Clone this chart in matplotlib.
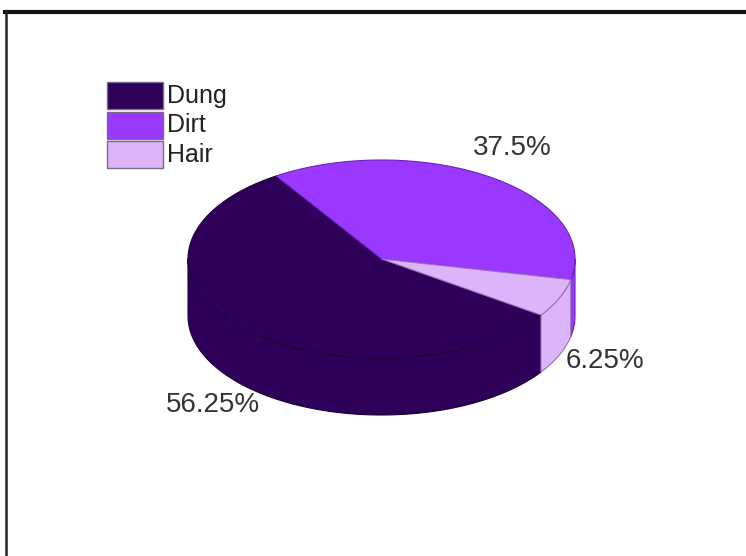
import numpy as np
import matplotlib
matplotlib.use('Agg')
import matplotlib.pyplot as plt
from matplotlib.patches import Polygon, Rectangle
from matplotlib.lines import Line2D

categories = ['Dung', 'Dirt', 'Hair']
values = [56.25, 37.5, 6.25]
colors = ['#2e0059', '#9a38ff', '#dcb4fa']
edge_colors = ['#1a0033', '#6e1fc0', '#9a70c0']
pct_labels = ['56.25%', '37.5%', '6.25%']

plt.rcParams['font.family'] = ['Liberation Sans', 'DejaVu Sans']

W, H = 746, 556
fig = plt.figure(figsize=(W / 100, H / 100), dpi=100)
ax = fig.add_axes([0, 0, 1, 1])
ax.set_xlim(0, W)
ax.set_ylim(H, 0)
ax.axis('off')

# pie geometry (pixel space)
cx, cy = 381.5, 259
a, b = 193.5, 99
depth = 57
start = 325.5   # clockwise from here


def ell(t, dy=0):
    t = np.radians(t)
    return np.column_stack([cx + a * np.cos(t), cy - b * np.sin(t) + dy])


# slice angle ranges (counter-clockwise lo..hi)
fracs = np.array(values) / sum(values) * 360
ranges = []
cur = start
for f in fracs:
    ranges.append((cur - f, cur))
    cur -= f

# side walls (front half only)
for (lo, hi), c, ec in zip(ranges, colors, edge_colors):
    for k in (-1, 0, 1):
        s = max(lo, 180 + 360 * k)
        e = min(hi, 360 + 360 * k)
        if e <= s:
            continue
        t = np.linspace(s, e, 80)
        pts = np.vstack([ell(t), ell(t[::-1], depth)])
        ax.add_patch(Polygon(pts, closed=True, facecolor=c, edgecolor=ec, lw=0.8))

# top faces
for (lo, hi), c, ec in zip(ranges, colors, edge_colors):
    t = np.linspace(lo, hi, 150)
    pts = np.vstack([[cx, cy], ell(t)])
    ax.add_patch(Polygon(pts, closed=True, facecolor=c, edgecolor=ec, lw=0.8))

# percentage labels
label_pos = [(213, 405), (512, 148), (605, 361)]
for txt, (x, y) in zip(pct_labels, label_pos):
    ax.text(x, y, txt, ha='center', va='center', fontsize=20, color='#333333')

# legend
for i, (cat, c) in enumerate(zip(categories, colors)):
    y0 = 82 + i * 29.5
    ax.add_patch(Rectangle((107, y0), 56, 27, facecolor=c, edgecolor='#7a6a8a', lw=1))
    ax.text(167, y0 + 13.5, cat, ha='left', va='center', fontsize=18, color='#222222')

# frame lines
fig.add_artist(Line2D([5 / W, 1], [1 - 12 / H, 1 - 12 / H], color='#111111', lw=3))
fig.add_artist(Line2D([6 / W, 6 / W], [0, 1 - 12 / H], color='#222222', lw=1.8))

fig.savefig('out.png', dpi=100)
